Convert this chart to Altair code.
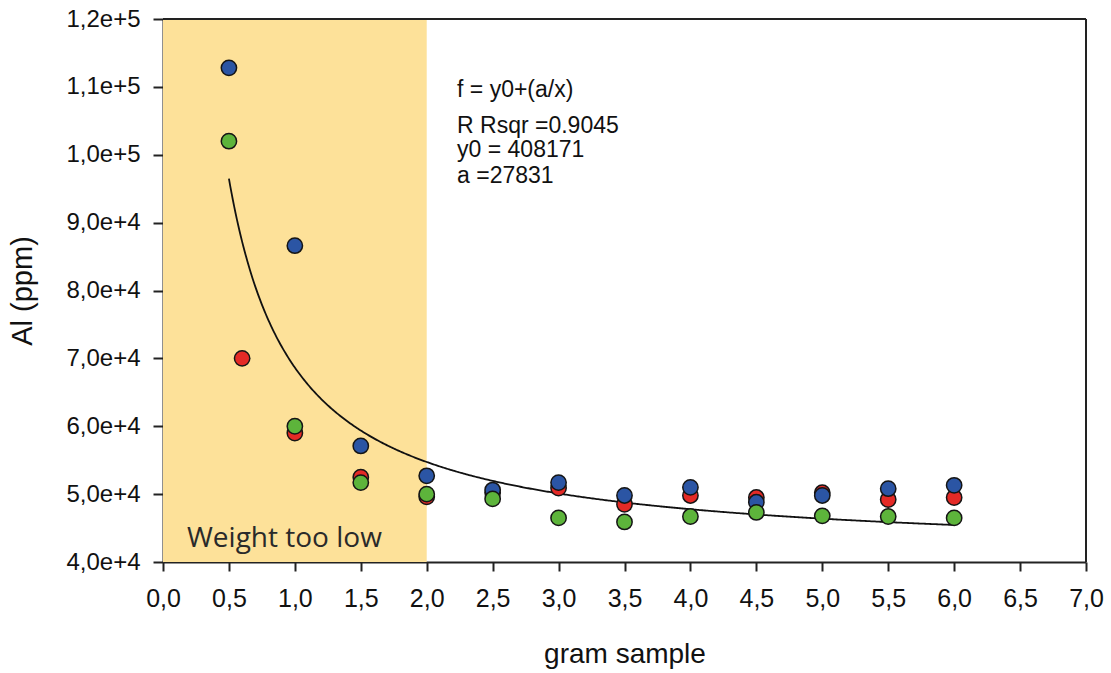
import altair as alt
import pandas as pd

# Al concentration (ppm) against sample weight (g), three replicate series
x_red = [0.6, 1.0, 1.5, 2.0, 2.5, 3.0, 3.5, 4.0, 4.5, 5.0, 5.5, 6.0]
al_red = [70000, 59000, 52500, 49600, 50200, 50900, 48500, 49800, 49500, 50200, 49200, 49500]

x_blue = [0.5, 1.0, 1.5, 2.0, 2.5, 3.0, 3.5, 4.0, 4.5, 5.0, 5.5, 6.0]
al_blue = [112800, 86600, 57100, 52700, 50600, 51700, 49800, 51000, 48800, 49800, 50800, 51300]

x_green = [0.5, 1.0, 1.5, 2.0, 2.5, 3.0, 3.5, 4.0, 4.5, 5.0, 5.5, 6.0]
al_green = [102000, 60000, 51700, 50000, 49300, 46500, 45900, 46700, 47300, 46800, 46700, 46500]

series_names = ["Series 1", "Series 2", "Series 3"]
series_colors = ["#E42A26", "#2B55A4", "#5DB43B"]

# Hyperbolic fit f = y0 + a/x
fit_y0 = 40817.1
fit_a = 27831.0
fit_lines = ["f = y0+(a/x)", "R Rsqr =0.9045", "y0 = 408171", "a =27831"]
fit_text_x = [2.23, 2.23, 2.23, 2.23]
fit_text_y = [108500, 103200, 99700, 95850]

# Weight range considered too low
band_start = [0.0]
band_end = [2.0]
band_label = ["Weight too low"]

x_ticks = [i * 0.5 for i in range(15)]
y_ticks = [40000 + i * 10000 for i in range(9)]

points = pd.DataFrame({
    "gram": x_red + x_blue + x_green,
    "al": al_red + al_blue + al_green,
    "series": [series_names[0]] * len(x_red)
    + [series_names[1]] * len(x_blue)
    + [series_names[2]] * len(x_green),
})
band = pd.DataFrame({"start": band_start, "end": band_end, "label": band_label})
notes = pd.DataFrame({"gram": fit_text_x, "al": fit_text_y, "text": fit_lines})

x_scale = alt.Scale(domain=[0, 7], nice=False, zero=False)
y_scale = alt.Scale(domain=[40000, 120000], nice=False, zero=False)

x_axis = alt.Axis(
    values=x_ticks,
    labelExpr="replace(format(datum.value, '.1f'), '.', ',')",
    labelFontSize=25,
    labelPadding=15,
    labelFlush=False,
    labelOverlap=False,
    tickSize=9,
    title="gram sample",
    titleFontSize=28,
    titlePadding=29,
)
y_axis = alt.Axis(
    values=y_ticks,
    labelExpr="replace(format(datum.value, '.1e'), '.', ',')",
    labelFontSize=24,
    labelPadding=13,
    labelFlush=False,
    labelOverlap=False,
    tickSize=10,
    title="Al (ppm)",
    titleFontSize=29,
    titlePadding=28,
)

shade = alt.Chart(band).mark_rect(color="#FDE199").encode(
    x=alt.X("start:Q", scale=x_scale, axis=x_axis),
    x2="end:Q",
)

shade_label = alt.Chart(band).mark_text(
    align="left", baseline="alphabetic", font="Open Sans", fontSize=28, color="#2a2a2a"
).encode(
    x=alt.X("start:Q", scale=x_scale),
    y=alt.datum(42200, scale=y_scale),
    text="label:N",
    xOffset=alt.value(24),
)

fit_curve = alt.Chart(alt.sequence(0.5, 6.005, 0.01, as_="gram")).transform_calculate(
    al=f"{fit_y0} + {fit_a} / datum.gram"
).mark_line(color="#111111", strokeWidth=1.8).encode(
    x=alt.X("gram:Q", scale=x_scale),
    y=alt.Y("al:Q", scale=y_scale, axis=y_axis),
)

dots = alt.Chart(points).mark_point(
    filled=True, shape="circle", size=235, stroke="#151515", strokeWidth=1.5, opacity=1
).encode(
    x=alt.X("gram:Q", scale=x_scale),
    y=alt.Y("al:Q", scale=y_scale),
    fill=alt.Fill("series:N", scale=alt.Scale(domain=series_names, range=series_colors), legend=None),
)

fit_notes = alt.Chart(notes).mark_text(
    align="left", baseline="alphabetic", font="Liberation Sans", fontSize=23, color="#111111"
).encode(
    x=alt.X("gram:Q", scale=x_scale),
    y=alt.Y("al:Q", scale=y_scale),
    text="text:N",
)

frame_top = alt.Chart(band).mark_rule(color="#222222", strokeWidth=2).encode(
    x=alt.datum(0, scale=x_scale),
    x2=alt.datum(7),
    y=alt.datum(120000, scale=y_scale),
)
frame_right = alt.Chart(band).mark_rule(color="#222222", strokeWidth=2).encode(
    x=alt.datum(7, scale=x_scale),
    y=alt.datum(40000, scale=y_scale),
    y2=alt.datum(120000),
)

chart = alt.layer(
    shade, shade_label, fit_curve, dots, fit_notes, frame_top, frame_right
).properties(
    width=923,
    height=543,
    autosize=alt.AutoSizeParams(type="none"),
    padding={"left": 163, "top": 19, "right": 25, "bottom": 111},
    background="white",
).configure_view(
    stroke=None
).configure_axis(
    grid=False,
    labelFont="Liberation Sans",
    titleFont="Liberation Sans",
    labelColor="#111111",
    titleColor="#111111",
    titleFontWeight="normal",
    domainColor="#222222",
    domainWidth=2,
    tickColor="#222222",
    tickWidth=2,
    zindex=1,
)

chart.save("out.html", embed_options={"renderer": "svg", "actions": False})
